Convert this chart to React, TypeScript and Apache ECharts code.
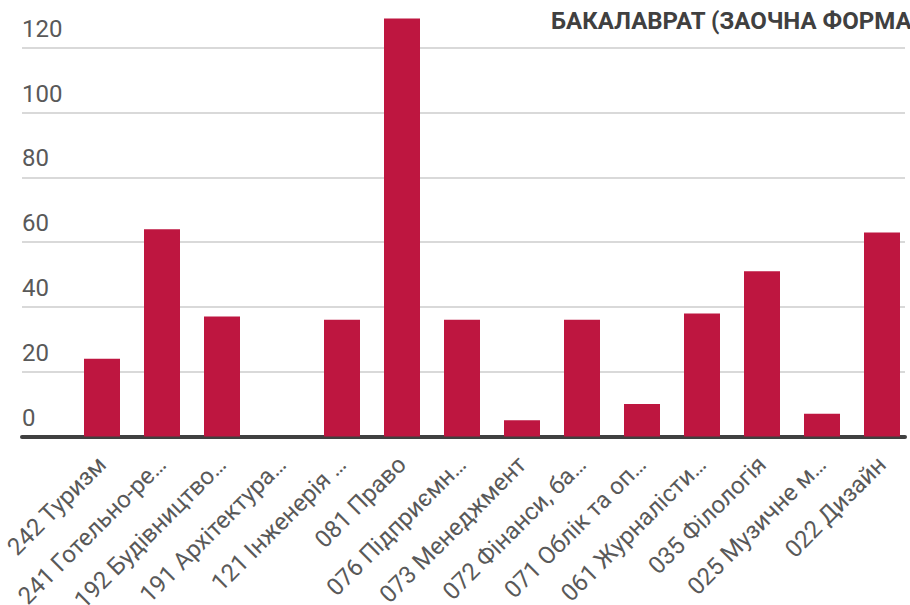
import React, { useEffect, useRef } from "react";
import * as echarts from "echarts";

const categories = [
  "242 Туризм",
  "241 Готельно-ре…",
  "192 Будівництво…",
  "191 Архітектура…",
  "121 Інженерія …",
  "081 Право",
  "076 Підприємн…",
  "073 Менеджмент",
  "072 Фінанси, ба…",
  "071 Облік та оп…",
  "061 Журналісти…",
  "035 Філологія",
  "025 Музичне м…",
  "022 Дизайн",
];
const values = [24, 64, 37, 0, 36, 129, 36, 5, 36, 10, 38, 51, 7, 63];
const yTicks = { min: 0, max: 130, interval: 20 };
const titleText = "БАКАЛАВРАТ (ЗАОЧНА ФОРМА";

const FONT = "Roboto";

export default function App() {
  const ref = useRef<HTMLDivElement>(null);
  useEffect(() => {
    if (!ref.current) return;
    const chart = echarts.init(ref.current, undefined, { renderer: "svg" });
    const top = 15.3;
    const height = 421.2;
    chart.setOption({
      animation: false,
      backgroundColor: "#ffffff",
      textStyle: { fontFamily: FONT },
      title: {
        text: titleText,
        left: 546,
        top: 4,
        textStyle: { fontFamily: FONT, fontWeight: "bold", fontSize: 24, color: "#404040" },
      },
      grid: [
        { left: 22, width: 883, top, height, containLabel: false, outerBoundsMode: "none" },
        { left: 72, width: 840, top, height, containLabel: false, outerBoundsMode: "none" },
      ],
      xAxis: [
        {
          type: "value",
          gridIndex: 0,
          min: 0,
          max: 1,
          axisLine: { show: true, onZero: false, lineStyle: { color: "#404040", width: 4 } },
          axisTick: { show: false },
          axisLabel: { show: false },
          splitLine: { show: false },
        },
        {
          type: "category",
          gridIndex: 1,
          data: categories,
          axisLine: { show: false },
          axisTick: { show: false },
          axisLabel: {
            interval: 0,
            rotate: 45,
            margin: 24,
            fontFamily: FONT,
            fontSize: 24,
            color: "#595959",
          },
        },
      ],
      yAxis: [
        {
          type: "value",
          gridIndex: 0,
          min: yTicks.min,
          max: yTicks.max,
          interval: yTicks.interval,
          axisLine: { show: false },
          axisTick: { show: false },
          splitLine: {
            show: true,
            showMaxLine: false,
            lineStyle: { color: "#D9D9D9", width: 2 },
          },
          axisLabel: {
            inside: true,
            margin: 0,
            showMaxLabel: false,
            align: "left",
            verticalAlign: "bottom",
            padding: [0, 0, 7, 0],
            fontFamily: FONT,
            fontSize: 24,
            color: "#595959",
          },
        },
        {
          type: "value",
          gridIndex: 1,
          min: yTicks.min,
          max: yTicks.max,
          interval: yTicks.interval,
          show: false,
          splitLine: { show: false },
        },
      ],
      series: [
        {
          type: "bar",
          xAxisIndex: 1,
          yAxisIndex: 1,
          data: values,
          barWidth: 36,
          itemStyle: { color: "#BE1640" },
        },
      ],
    });
    return () => chart.dispose();
  }, []);
  return (
    <div
      ref={ref}
      style={{ position: "fixed", left: 0, top: 0, width: 910, height: 605 }}
    />
  );
}
